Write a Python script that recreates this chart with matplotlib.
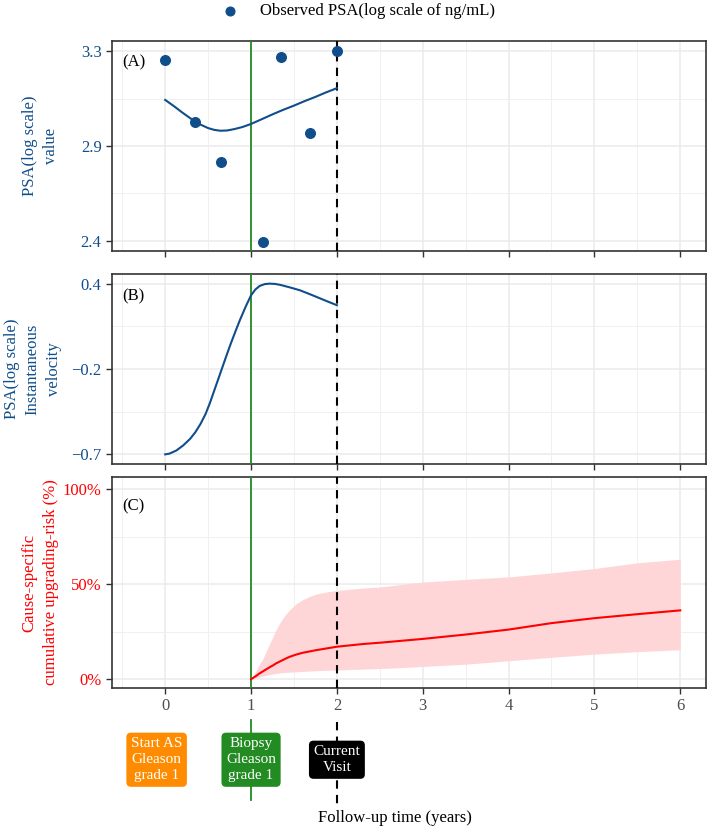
import numpy as np
import matplotlib
matplotlib.use("Agg")
import matplotlib.pyplot as plt
from matplotlib.ticker import FixedLocator, MultipleLocator

plt.rcParams['font.family'] = ['Liberation Serif', 'DejaVu Serif']

BLUE = '#104E8B'
GREEN = '#228B22'
ORANGE = '#FF8C00'
GRID = '#EBEBEB'

# observed PSA (log scale)
obs_time = [0.0, 0.35, 0.65, 1.14, 1.35, 1.69, 2.0]
obs_psa = [3.259, 2.975, 2.792, 2.425, 3.273, 2.925, 3.30]

# fitted PSA curve
fit_time = [0.0, 0.1, 0.2, 0.3, 0.4, 0.5, 0.57, 0.64, 0.72, 0.8, 0.9, 1.0, 1.12, 1.25,
            1.37, 1.5, 1.62, 1.75, 1.87, 2.0]
fit_psa = [3.076, 3.048, 3.018, 2.99, 2.965, 2.947, 2.939, 2.935, 2.936, 2.942, 2.952, 2.966,
           2.987, 3.01, 3.03, 3.05, 3.07, 3.09, 3.11, 3.13]

# instantaneous velocity
vel_time = [0.0, 0.05, 0.13, 0.21, 0.29, 0.35, 0.41, 0.47, 0.52, 0.58, 0.64, 0.70, 0.76,
            0.82, 0.87, 0.94, 1.0, 1.05, 1.1, 1.16, 1.22, 1.28, 1.34, 1.45, 1.57, 1.68, 1.80, 1.9, 2.0]
vel_val = [-0.70, -0.695, -0.675, -0.642, -0.600, -0.558, -0.505, -0.44, -0.37, -0.275, -0.18,
           -0.085, 0.008, 0.095, 0.165, 0.255, 0.325, 0.362, 0.385, 0.397, 0.40, 0.398, 0.392,
           0.376, 0.357, 0.333, 0.306, 0.283, 0.261]

# cumulative upgrading risk (fraction)
risk_time = [1.0, 1.04, 1.07, 1.1, 1.14, 1.18, 1.22, 1.26, 1.29, 1.33, 1.37, 1.41, 1.45, 1.52,
             1.6, 1.68, 1.76, 1.88, 2.0, 2.15, 2.3, 2.5, 2.75, 3.0, 3.5, 4.0, 4.5, 5.0, 5.5, 6.0]
risk_mean = [0.0, 0.012, 0.021, 0.031, 0.042, 0.053, 0.064, 0.074, 0.083, 0.092, 0.101, 0.110,
             0.118, 0.129, 0.139, 0.146, 0.153, 0.162, 0.171, 0.178, 0.185, 0.192, 0.202, 0.212,
             0.235, 0.261, 0.295, 0.321, 0.342, 0.362]
risk_low = [0.0, 0.004, 0.008, 0.012, 0.017, 0.021, 0.025, 0.028, 0.030, 0.033, 0.035, 0.036,
            0.037, 0.039, 0.041, 0.043, 0.045, 0.047, 0.048, 0.051, 0.053, 0.056, 0.061, 0.067,
            0.079, 0.097, 0.115, 0.132, 0.145, 0.155]
risk_up = [0.0, 0.03, 0.055, 0.08, 0.109, 0.15, 0.19, 0.228, 0.259, 0.292, 0.32, 0.345, 0.365,
           0.395, 0.418, 0.435, 0.448, 0.459, 0.466, 0.473, 0.479, 0.485, 0.498, 0.511,
           0.525, 0.538, 0.559, 0.582, 0.612, 0.631]

fig = plt.figure(figsize=(7.09, 8.30), dpi=100)
W, H = 709, 830


def add_ax(top, bottom, left=112, right=706):
    return fig.add_axes([left / W, 1 - bottom / H, (right - left) / W, (bottom - top) / H])


axA = add_ax(41, 251)
axB = add_ax(274, 464)
axC = add_ax(477, 688)

for ax in (axA, axB, axC):
    ax.set_xlim(-0.62, 6.3)
    ax.xaxis.set_major_locator(MultipleLocator(1))
    ax.xaxis.set_minor_locator(MultipleLocator(0.5))
    ax.grid(True, which='major', color=GRID, lw=1.1, zorder=0)
    ax.grid(True, which='minor', color='#F0F0F0', lw=0.7, zorder=0)
    ax.set_axisbelow(True)
    for s in ax.spines.values():
        s.set_color('#333333')
        s.set_linewidth(1.2)
    ax.tick_params(which='major', length=4, width=1, color='#333333', labelsize=12)
    ax.tick_params(which='minor', length=0)
    ax.axvline(1, color=GREEN, lw=1.3, zorder=3)
    ax.axvline(2, color='black', lw=1.5, ls=(0, (4, 3)), zorder=3)

# panel A
axA.set_ylim(2.384, 3.346)
axA.yaxis.set_major_locator(FixedLocator([2.43, 2.865, 3.30]))
axA.yaxis.set_minor_locator(FixedLocator([2.6475, 3.0825]))
axA.set_yticklabels(['2.4', '2.9', '3.3'], color=BLUE)
axA.set_xticklabels([])
axA.plot(fit_time, fit_psa, color=BLUE, lw=1.5, zorder=4)
axA.scatter(obs_time, obs_psa, s=48, color=BLUE, zorder=5, clip_on=False,
            label='Observed PSA(log scale of ng/mL)')
axA.set_ylabel('PSA(log scale)\nvalue', color=BLUE, fontsize=12, linespacing=1.4)
axA.text(0.018, 0.9, '(A)', transform=axA.transAxes, fontsize=12, va='center')

# panel B
axB.set_ylim(-0.762, 0.462)
axB.yaxis.set_major_locator(FixedLocator([-0.70, -0.15, 0.40]))
axB.yaxis.set_minor_locator(FixedLocator([-0.425, 0.125]))
axB.set_yticklabels(['\u22120.7', '\u22120.2', '0.4'], color=BLUE)
axB.set_xticklabels([])
axB.plot(vel_time, vel_val, color=BLUE, lw=1.5, zorder=4)
axB.set_ylabel('PSA(log scale)\nInstantaneous\nvelocity', color=BLUE, fontsize=12, linespacing=1.4)
axB.text(0.018, 0.88, '(B)', transform=axB.transAxes, fontsize=12, va='center')

# panel C
axC.set_ylim(-0.046, 1.063)
axC.set_xticks([0, 1, 2, 3, 4, 5, 6])
axC.set_xticklabels(['0', '1', '2', '3', '4', '5', '6'], color='#4D4D4D')
axC.yaxis.set_major_locator(FixedLocator([0, 0.5, 1.0]))
axC.yaxis.set_minor_locator(FixedLocator([0.25, 0.75]))
axC.set_yticklabels(['0%', '50%', '100%'], color='red')
axC.fill_between(risk_time, risk_low, risk_up, color='#FFD6D8', lw=0, zorder=2)
axC.plot(risk_time, risk_mean, color='red', lw=1.5, zorder=4)
axC.set_ylabel('Cause-specific\ncumulative upgrading-risk (%)', color='red', fontsize=12,
               linespacing=1.4)
axC.text(0.018, 0.86, '(C)', transform=axC.transAxes, fontsize=12, va='center')

# align y labels
axA.yaxis.set_label_coords(-0.09, 0.5)
axB.yaxis.set_label_coords(-0.085, 0.5)
axC.yaxis.set_label_coords(-0.09, 0.5)

# event markers below the time axis
trans = axC.get_xaxis_transform()
axC.plot([1, 1], [-0.152, -0.531], color=GREEN, lw=1.3, transform=trans, clip_on=False)
axC.plot([2, 2], [-0.162, -0.555], color='black', lw=1.5, ls=(0, (4, 3)),
         transform=trans, clip_on=False)
box = dict(boxstyle='round,pad=0.3,rounding_size=0.3', lw=0)
kw = dict(transform=trans, ha='center', va='center', color='white', fontsize=11,
          linespacing=1.3, zorder=6)
axC.text(-0.1, -0.34, 'Start AS\nGleason\ngrade 1', bbox=dict(box, fc=ORANGE), **kw)
axC.text(1, -0.34, 'Biopsy\nGleason\ngrade 1', bbox=dict(box, fc=GREEN), **kw)
axC.text(2, -0.34, 'Current\nVisit', bbox=dict(box, fc='black'), **kw)
fig.text(395 / W, 1 - 818 / H, 'Follow-up time (years)', ha='center', va='center', fontsize=12)

# legend on top
fig.legend(*axA.get_legend_handles_labels(), loc='center', bbox_to_anchor=(354 / W, 1 - 11 / H),
           frameon=False, fontsize=12, handletextpad=0.8, markerscale=0.9)

fig.savefig('out.png', dpi=100)
